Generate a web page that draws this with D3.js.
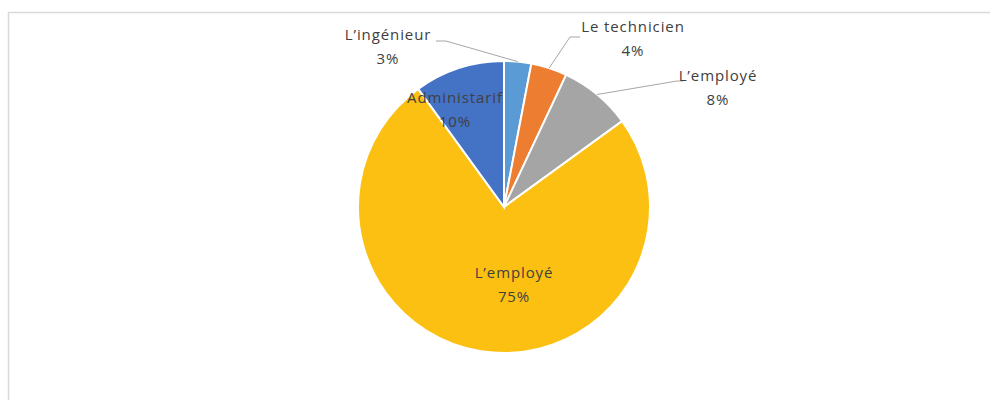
<!DOCTYPE html>
<html>
<head>
<meta charset="utf-8">
<script src="https://cdn.jsdelivr.net/npm/d3@7"></script>
<style>
  body { margin: 0; background: #fff; }
  svg { display: block; }
  text { font-family: "Open Sans", Lato, sans-serif; fill: #404040; font-size: 15px; letter-spacing: 0.9px; }
</style>
</head>
<body>
<svg id="chart" width="990" height="400"></svg>
<script>
const categories = ["L\u2019ingénieur", "Le technicien", "L\u2019employé", "L\u2019employé", "Administarif"];
const values = [3, 4, 8, 75, 10];
const colors = ["#5B9BD5", "#ED7D31", "#A5A5A5", "#FBC011", "#4472C4"];

// label placement (offsets from pie centre) and leader-line elbows
const labelPos = [[-116, -167], [129, -175], [214, -126], [10, 71], [-49, -104]];
const leaderElbow = [[-58, -166, -68], [66, -170, 76], [173, -126, 179], null, null];

const W = 990, H = 400;
const cx = 504, cy = 207, R = 146;

const svg = d3.select('#chart');

svg.append('path')
    .attr('d', `M8.5,${H} V12.5 H${W}`)
    .attr('fill', 'none')
    .attr('stroke', '#d9d9d9')
    .attr('stroke-width', 1.5);

const data = categories.map((c, i) => ({name: c, value: values[i], color: colors[i]}));

const pie = d3.pie().sort(null).value(d => d.value);
const arc = d3.arc().innerRadius(0).outerRadius(R);
const arcs = pie(data);

const g = svg.append('g').attr('transform', `translate(${cx},${cy})`);

g.selectAll('.slice')
    .data(arcs)
    .enter()
    .append('path')
    .classed('slice', true)
    .attr('d', arc)
    .attr('fill', d => d.data.color)
    .attr('stroke', '#fff')
    .attr('stroke-width', 2);

// leader lines
arcs.forEach((d, i) => {
    const el = leaderElbow[i];
    if (!el) return;
    const a = (d.startAngle + d.endAngle) / 2;
    const px = R * Math.sin(a), py = -R * Math.cos(a);
    g.append('polyline')
        .attr('points', `${px},${py} ${el[0]},${el[1]} ${el[2]},${el[1]}`)
        .attr('fill', 'none')
        .attr('stroke', '#a6a6a6')
        .attr('stroke-width', 1);
});

const labels = g.selectAll('.label')
    .data(arcs)
    .enter()
    .append('text')
    .classed('label', true)
    .attr('text-anchor', 'middle')
    .attr('transform', (d, i) => `translate(${labelPos[i][0]},${labelPos[i][1]})`);

labels.append('tspan')
    .attr('x', 0)
    .attr('y', 0)
    .text(d => d.data.name);

labels.append('tspan')
    .attr('x', 0)
    .attr('y', 24)
    .text(d => d.data.value + '%');
</script>
</body>
</html>
